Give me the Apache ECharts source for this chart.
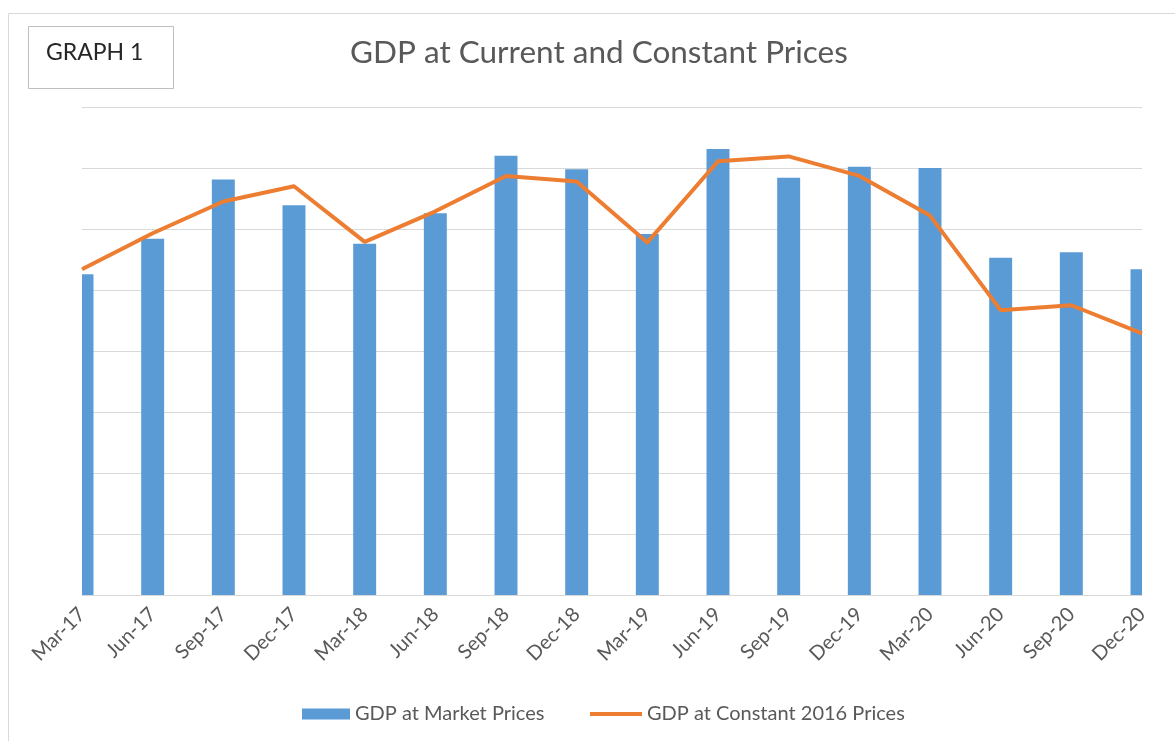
<!DOCTYPE html>
<html>
<head>
<meta charset="utf-8">
<title>GDP at Current and Constant Prices</title>
<script src="https://cdn.jsdelivr.net/npm/echarts@6/dist/echarts.min.js"></script>
<style>
  html, body { margin: 0; padding: 0; background: #fff; }
  #main { width: 1175px; height: 741px; }
</style>
</head>
<body>
<div id="main"></div>
<script>
// quarters on the x axis
var quarters = ['Mar-17', 'Jun-17', 'Sep-17', 'Dec-17', 'Mar-18', 'Jun-18', 'Sep-18', 'Dec-18',
  'Mar-19', 'Jun-19', 'Sep-19', 'Dec-19', 'Mar-20', 'Jun-20', 'Sep-20', 'Dec-20'];
// values (axis has no labels, units = grid steps)
var marketPrices = [5.26, 5.84, 6.81, 6.39, 5.76, 6.26, 7.20, 6.98,
  5.92, 7.31, 6.84, 7.02, 7.00, 5.53, 5.62, 5.34];
var constantPrices = [5.34, 5.93, 6.45, 6.70, 5.79, 6.29, 6.87, 6.78,
  5.78, 7.11, 7.19, 6.87, 6.22, 4.67, 4.75, 4.29];

var FONT = 'Lato';
var chart = echarts.init(document.getElementById('main'));

// bars sit on the tick marks, so the first and last one are cut in half by the plot area
function renderBar(params, api) {
  var top = api.coord([api.value(0), api.value(1)]);
  var base = api.coord([api.value(0), 0]);
  var w = api.size([1, 0])[0] * 0.325;
  var rect = echarts.graphic.clipRectByRect({
    x: top[0] - w / 2,
    y: top[1],
    width: w,
    height: base[1] - top[1]
  }, {
    x: params.coordSys.x,
    y: params.coordSys.y,
    width: params.coordSys.width,
    height: params.coordSys.height
  });
  return rect && {
    type: 'rect',
    shape: rect,
    style: api.style()
  };
}

var option = {
  animation: false,
  title: {
    text: 'GDP at Current and Constant Prices',
    left: 345,
    top: 32,
    textStyle: {
      color: '#595959',
      fontFamily: FONT,
      fontWeight: 'normal',
      fontSize: 31.5
    }
  },
  graphic: [
    {
      // outer chart frame
      type: 'rect',
      shape: { x: 8.5, y: 13.5, width: 1200, height: 800 },
      style: { fill: 'none', stroke: '#D9D9D9', lineWidth: 1 },
      silent: true
    },
    {
      type: 'rect',
      shape: { x: 28.5, y: 26.5, width: 145, height: 62 },
      style: { fill: '#fff', stroke: '#BFBFBF', lineWidth: 1 },
      silent: true
    },
    {
      type: 'text',
      left: 46,
      top: 41,
      style: {
        text: 'GRAPH 1',
        fill: '#262626',
        font: '23px Lato'
      }
    }
  ],
  legend: [
    {
      data: [{ name: 'GDP at Market Prices', icon: 'rect' }],
      left: 297,
      top: 699,
      itemWidth: 48,
      itemHeight: 11,
      textStyle: { color: '#595959', fontFamily: FONT, fontSize: 20 }
    },
    {
      data: [{ name: 'GDP at Constant 2016 Prices', icon: 'rect' }],
      left: 585,
      top: 699,
      itemWidth: 52,
      itemHeight: 4,
      textStyle: { color: '#595959', fontFamily: FONT, fontSize: 20 }
    }
  ],
  grid: {
    left: 82,
    right: 33,
    top: 107,
    bottom: 146
  },
  xAxis: {
    type: 'category',
    data: quarters,
    boundaryGap: false,
    axisLine: { lineStyle: { color: '#D9D9D9', width: 1 } },
    axisTick: { show: false },
    axisLabel: {
      rotate: 45,
      margin: 16,
      padding: [12, 0, 0, 0],
      interval: 0,
      color: '#595959',
      fontFamily: FONT,
      fontSize: 20
    },
    splitLine: { show: false }
  },
  yAxis: {
    type: 'value',
    min: 0,
    max: 8,
    interval: 1,
    axisLabel: { show: false },
    axisLine: { show: false },
    axisTick: { show: false },
    splitLine: { lineStyle: { color: '#D9D9D9', width: 1 } }
  },
  series: [
    {
      name: 'GDP at Market Prices',
      type: 'custom',
      renderItem: renderBar,
      encode: { x: 0, y: 1 },
      data: marketPrices.map(function (v, i) { return [i, v]; }),
      itemStyle: { color: '#5B9BD5' }
    },
    {
      name: 'GDP at Constant 2016 Prices',
      type: 'line',
      data: constantPrices,
      symbol: 'none',
      clip: false,
      itemStyle: { color: '#ED7D31' },
      lineStyle: { color: '#ED7D31', width: 4, join: 'round' }
    }
  ]
};

chart.setOption(option);
</script>
</body>
</html>
